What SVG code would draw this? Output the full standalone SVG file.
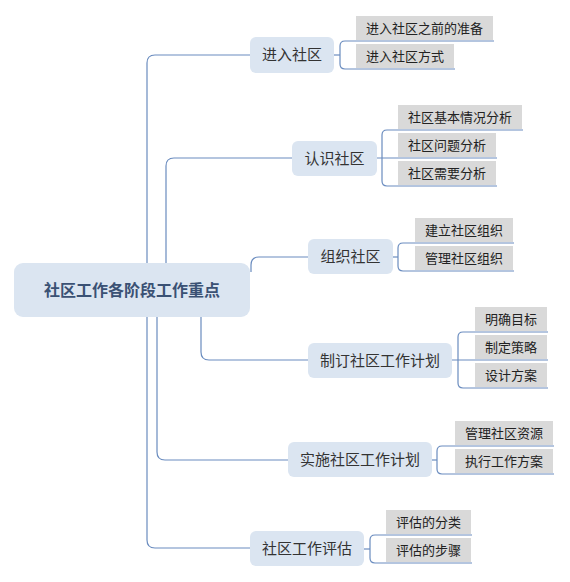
<svg xmlns="http://www.w3.org/2000/svg" width="570" height="582" viewBox="0 0 570 582">
<style>
.bg{fill:#ffffff}
.ln{fill:none;stroke:#6a8cbf;stroke-width:1.2}
.root{fill:#dbe5f1}
.l1{fill:#dbe5f1}
.sub{fill:#d9d9d9}
.tr{font-family:"Noto Sans CJK SC","Noto Sans",sans-serif;font-size:16px;font-weight:bold;fill:#3a5174;text-anchor:middle}
.t1{font-family:"Noto Sans CJK SC","Noto Sans",sans-serif;font-size:15px;fill:#333333;text-anchor:middle}
.t2{font-family:"Noto Sans CJK SC","Noto Sans",sans-serif;font-size:13px;fill:#222222;text-anchor:middle}
</style>
<rect class="bg" x="0" y="0" width="570" height="582"/>
<g id="connectors">
  <!-- root to level 1 -->
  <path class="ln" d="M147,300 V63 Q147,55 155,55 H250"/>
  <path class="ln" d="M147,280 V540 Q147,548 155,548 H250"/>
  <path class="ln" d="M166,270 V166 Q166,158 174,158 H292"/>
  <path class="ln" d="M251,272 V265 Q251,257 259,257 H308"/>
  <path class="ln" d="M201,310 V352 Q201,360 209,360 H308"/>
  <path class="ln" d="M157,310 V452 Q157,460 165,460 H288"/>
  <!-- 进入社区 -->
  <path class="ln" d="M334,55 H340"/>
  <path class="ln" d="M340,55 V46 Q340,41 345,41 H494"/>
  <path class="ln" d="M340,55 V64 Q340,69 345,69 H455"/>
  <!-- 认识社区 -->
  <path class="ln" d="M377,158 H497"/>
  <path class="ln" d="M382,158 V135 Q382,130 387,130 H523"/>
  <path class="ln" d="M382,158 V181 Q382,186 387,186 H497"/>
  <!-- 组织社区 -->
  <path class="ln" d="M393,257 H398"/>
  <path class="ln" d="M398,257 V248 Q398,243 403,243 H514"/>
  <path class="ln" d="M398,257 V266 Q398,271 403,271 H514"/>
  <!-- 制订社区工作计划 -->
  <path class="ln" d="M452,360 H548"/>
  <path class="ln" d="M458,360 V337 Q458,332 463,332 H548"/>
  <path class="ln" d="M458,360 V383 Q458,388 463,388 H548"/>
  <!-- 实施社区工作计划 -->
  <path class="ln" d="M432,460 H437"/>
  <path class="ln" d="M437,460 V451 Q437,446 442,446 H554"/>
  <path class="ln" d="M437,460 V469 Q437,474 442,474 H554"/>
  <!-- 社区工作评估 -->
  <path class="ln" d="M364,549 H370"/>
  <path class="ln" d="M370,549 V540 Q370,535 375,535 H472"/>
  <path class="ln" d="M370,549 V558 Q370,563 375,563 H472"/>
</g>
<g id="root">
  <rect class="root" x="14" y="263" width="236" height="54" rx="9"/>
  <text class="tr" x="132" y="296">社区工作各阶段工作重点</text>
</g>
<g id="n1">
  <rect class="l1" x="250" y="37" width="84" height="36" rx="6"/>
  <text class="t1" x="292" y="60">进入社区</text>
</g>
<g id="n1a"><rect class="sub" x="356" y="16" width="137" height="24"/><text class="t2" x="424.5" y="33">进入社区之前的准备</text></g>
<g id="n1b"><rect class="sub" x="356" y="44" width="98" height="24"/><text class="t2" x="405" y="61">进入社区方式</text></g>
<g id="n2">
  <rect class="l1" x="292" y="141" width="85" height="35" rx="6"/>
  <text class="t1" x="334.5" y="163.5">认识社区</text>
</g>
<g id="n2a"><rect class="sub" x="398" y="105" width="124" height="24"/><text class="t2" x="460" y="122">社区基本情况分析</text></g>
<g id="n2b"><rect class="sub" x="398" y="133" width="98" height="24"/><text class="t2" x="447" y="150">社区问题分析</text></g>
<g id="n2c"><rect class="sub" x="398" y="161" width="98" height="24"/><text class="t2" x="447" y="178">社区需要分析</text></g>
<g id="n3">
  <rect class="l1" x="308" y="239" width="85" height="35" rx="6"/>
  <text class="t1" x="350.5" y="261.5">组织社区</text>
</g>
<g id="n3a"><rect class="sub" x="415" y="218" width="98" height="24"/><text class="t2" x="464" y="235">建立社区组织</text></g>
<g id="n3b"><rect class="sub" x="415" y="246" width="98" height="24"/><text class="t2" x="464" y="263">管理社区组织</text></g>
<g id="n4">
  <rect class="l1" x="308" y="343" width="144" height="35" rx="6"/>
  <text class="t1" x="380" y="365.5">制订社区工作计划</text>
</g>
<g id="n4a"><rect class="sub" x="475" y="307" width="72" height="24"/><text class="t2" x="511" y="324">明确目标</text></g>
<g id="n4b"><rect class="sub" x="475" y="335" width="72" height="24"/><text class="t2" x="511" y="352">制定策略</text></g>
<g id="n4c"><rect class="sub" x="475" y="363" width="72" height="24"/><text class="t2" x="511" y="380">设计方案</text></g>
<g id="n5">
  <rect class="l1" x="288" y="442" width="144" height="35" rx="6"/>
  <text class="t1" x="360" y="464.5">实施社区工作计划</text>
</g>
<g id="n5a"><rect class="sub" x="455" y="421" width="98" height="24"/><text class="t2" x="504" y="438">管理社区资源</text></g>
<g id="n5b"><rect class="sub" x="455" y="449" width="98" height="24"/><text class="t2" x="504" y="466">执行工作方案</text></g>
<g id="n6">
  <rect class="l1" x="250" y="531" width="114" height="35" rx="6"/>
  <text class="t1" x="307" y="553.5">社区工作评估</text>
</g>
<g id="n6a"><rect class="sub" x="386" y="510" width="85" height="24"/><text class="t2" x="428.5" y="527">评估的分类</text></g>
<g id="n6b"><rect class="sub" x="386" y="538" width="85" height="24"/><text class="t2" x="428.5" y="555">评估的步骤</text></g>
</svg>
